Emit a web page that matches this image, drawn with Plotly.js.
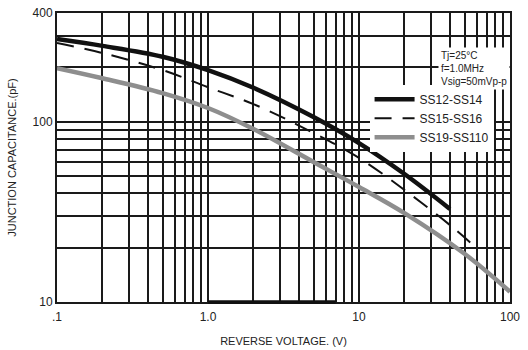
<!DOCTYPE html>
<html>
<head>
<meta charset="utf-8">
<script src="https://cdn.plot.ly/plotly-3.0.1.min.js"></script>
<style>html,body{margin:0;padding:0;background:#fff;}#chart{width:528px;height:350px;}</style>
</head>
<body>
<div id="chart"></div>
<script>
// Reverse voltage (V) vs junction capacitance (pF)
const vSS12 = [0.1, 0.2, 0.5, 1, 2, 5, 10, 20, 40];
const cSS12 = [287, 263, 229, 193, 154, 106, 76, 51.2, 32.8];

const vSS15 = [0.1, 0.2, 0.5, 1, 2, 5, 10, 20, 40, 60];
const cSS15 = [273, 240, 193, 155, 125, 86.5, 62.9, 41.8, 26.7, 19.9];

const vSS19 = [0.1, 0.2, 0.5, 1, 2, 5, 10, 20, 50, 100];
const cSS19 = [198, 174, 144, 119, 91, 59.7, 43.4, 31.1, 18.5, 11.4];

const xTickVals = [0.1,0.2,0.3,0.4,0.5,0.6,0.7,0.8,0.9,1,2,3,4,5,6,7,8,9,10,20,30,40,50,60,70,80,90,100];
const xTickText = [".1","","","","","","","","","1.0","","","","","","","","","10","","","","","","","","","100"];
const yTickVals = [10,20,30,40,50,60,70,80,90,100,200,300,400];
const yTickText = ["10","","","","","","","","","100","","","400"];

const names = ["SS12-SS14", "SS15-SS16", "SS19-SS110"];

const traces = [
  {x: vSS12, y: cSS12, name: names[0], mode: "lines", type: "scatter",
   line: {color: "#111", width: 4.5, shape: "spline", smoothing: 1}},
  {x: vSS15, y: cSS15, name: names[1], mode: "lines", type: "scatter",
   line: {color: "#111", width: 2, dash: "17px,11px", shape: "spline", smoothing: 1}},
  {x: vSS19, y: cSS19, name: names[2], mode: "lines", type: "scatter",
   line: {color: "#8e8e8e", width: 4.5, shape: "spline", smoothing: 1}}
];

const fam = "Liberation Sans, Arial, sans-serif";
const axisFont = {family: fam, size: 12, color: "#222"};

const layout = {
  width: 528, height: 350,
  margin: {l: 57, r: 18, t: 13, b: 48},
  paper_bgcolor: "#fff", plot_bgcolor: "#fff",
  showlegend: true,
  legend: {
    x: 0.69, xanchor: "left", y: 0.752, yanchor: "top",
    bgcolor: "#fff", borderwidth: 0,
    font: {family: fam, size: 12, color: "#222"},
    tracegroupgap: 0, itemwidth: 40
  },
  xaxis: {
    type: "log", range: [-1, 2],
    tickmode: "array", tickvals: xTickVals, ticktext: xTickText,
    showgrid: true, gridcolor: "#1a1a1a", gridwidth: 2,
    showline: true, linecolor: "#1a1a1a", linewidth: 2, mirror: true,
    ticks: "", zeroline: false, ticklabelstandoff: 3,
    tickfont: axisFont,
    title: {text: "REVERSE VOLTAGE. (V)", font: {family: fam, size: 11, color: "#222"}, standoff: 14}
  },
  yaxis: {
    type: "log", range: [1, Math.log10(400)],
    tickmode: "array", tickvals: yTickVals, ticktext: yTickText,
    showgrid: true, gridcolor: "#1a1a1a", gridwidth: 2,
    showline: true, linecolor: "#1a1a1a", linewidth: 2, mirror: true,
    ticks: "", zeroline: false,
    tickfont: axisFont,
    title: {text: "JUNCTION CAPACITANCE.(pF)", font: {family: fam, size: 11, color: "#222"}, standoff: 14}
  },
  shapes: [{
    type: "line", xref: "x", yref: "paper", x0: 1, x1: 7, y0: 0, y1: 0,
    line: {color: "#111", width: 3.5}
  }],
  annotations: [{
    xref: "paper", yref: "paper", x: 0.84, y: 0.882, xanchor: "left", yanchor: "top",
    text: "Tj=25°C<br>f=1.0MHz<br>Vsig=50mVp-p", showarrow: false, align: "left",
    bgcolor: "#fff", borderpad: 2,
    font: {family: fam, size: 10, color: "#222"}
  }]
};

Plotly.newPlot("chart", traces, layout, {displayModeBar: false, staticPlot: true});
</script>
</body>
</html>
